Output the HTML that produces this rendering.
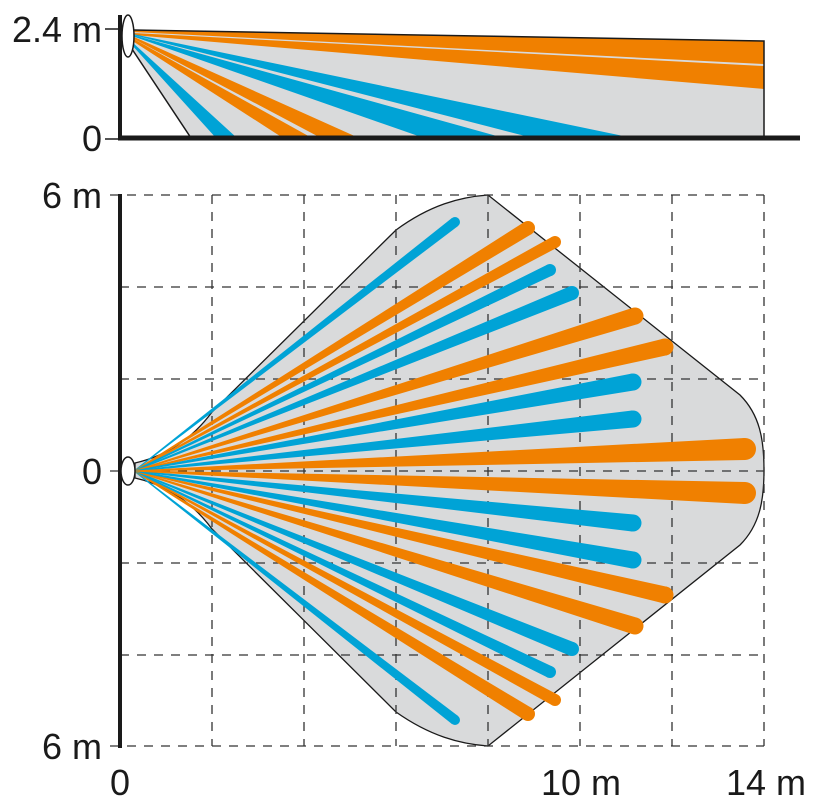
<!DOCTYPE html>
<html><head><meta charset="utf-8"><style>
html,body{margin:0;padding:0;background:#fff;}
svg{display:block;}
text{font-family:"Liberation Sans",sans-serif;font-size:36px;fill:#1a1a1a;}
</style></head><body>
<svg id="s" width="821" height="807" viewBox="0 0 821 807" xmlns="http://www.w3.org/2000/svg">
<!-- TOP CHART -->
<polygon points="133,30 764,41 764,138 191,138 130,46" fill="#d9dadb"/>
<polygon points="133,30 764,41 764,64 133,32" fill="#f08000"/>
<polygon points="133,33 764,66 764,89 133,35" fill="#f08000"/>
<polygon points="131,44 216,138 237,138 132,42" fill="#00a3d6"/>
<polygon points="131,40 283,138 312,138 132,38" fill="#f08000"/>
<polygon points="132,38 321,138 359,138 132,36" fill="#f08000"/>
<polygon points="132,36 424,138 504,138 133,35" fill="#00a3d6"/>
<polygon points="133,35 533,138 633,138 133,34" fill="#00a3d6"/>
<polyline points="130,46 191,138" fill="none" stroke="#1a1a1a" stroke-width="1.5"/>
<polyline points="133,30 764,41 764,138" fill="none" stroke="#1a1a1a" stroke-width="1.5"/>
<line x1="120" y1="15" x2="120" y2="140" stroke="#1a1a1a" stroke-width="4"/>
<line x1="118" y1="138" x2="800" y2="138" stroke="#1a1a1a" stroke-width="5"/>
<line x1="105" y1="29" x2="118" y2="29" stroke="#1a1a1a" stroke-width="1.5"/>
<line x1="105" y1="139" x2="118" y2="139" stroke="#1a1a1a" stroke-width="1.5"/>
<ellipse cx="128" cy="36" rx="6" ry="21" fill="#fff" stroke="#1a1a1a" stroke-width="1.5"/>
<text x="102" y="42" text-anchor="end">2.4 m</text>
<text x="102" y="151" text-anchor="end">0</text>

<!-- BOTTOM CHART -->
<path d="M135,463 C170,455 195,435 212,412 L396,230 C430,205 460,197 488,195 L740,395 C760,415 764,440 764,470 C764,500 760,525 740,545 L488,746 C460,744 430,736 396,712 L212,529 C195,506 170,486 135,478 Z" fill="#d9dadb" stroke="#1a1a1a" stroke-width="1.3"/>
<g stroke="#333" stroke-width="1.3" stroke-dasharray="9,8" fill="none">
<line x1="212" y1="195" x2="212" y2="746"/><line x1="304" y1="195" x2="304" y2="746"/>
<line x1="396" y1="195" x2="396" y2="746"/><line x1="488" y1="195" x2="488" y2="746"/>
<line x1="580" y1="195" x2="580" y2="746"/><line x1="672" y1="195" x2="672" y2="746"/>
<line x1="764" y1="195" x2="764" y2="746"/>
<line x1="110" y1="195" x2="764" y2="195"/><line x1="120" y1="287" x2="764" y2="287"/>
<line x1="120" y1="379" x2="764" y2="379"/><line x1="110" y1="471" x2="764" y2="471"/>
<line x1="120" y1="563" x2="764" y2="563"/><line x1="120" y1="655" x2="764" y2="655"/>
<line x1="110" y1="746" x2="764" y2="746"/>
</g>
<g id="beams"></g>
<line x1="120" y1="194" x2="120" y2="748" stroke="#1a1a1a" stroke-width="4"/>
<ellipse cx="128" cy="471" rx="7" ry="14" fill="#fff" stroke="#1a1a1a" stroke-width="1.5"/>
<text x="102" y="208" text-anchor="end">6 m</text>
<text x="102" y="484" text-anchor="end">0</text>
<text x="102" y="759" text-anchor="end">6 m</text>
<text x="120" y="795" text-anchor="middle">0</text>
<text x="581" y="795" text-anchor="middle">10 m</text>
<text x="766" y="795" text-anchor="middle">14 m</text>
</svg>
<script>
var O='#f08000',B='#00a3d6';
var up=[[B,455,222,10],[O,528,228,14],[O,555,242,12],[B,550,270,12],[B,572,293,14],[O,635,316,17],[O,665,347,17],[B,633,382,17],[B,633,419,17],[O,745,449,22]];
var all=up.slice();
up.forEach(function(b){all.push([b[0],b[1],942-b[2],b[3]]);});
var g=document.getElementById('beams'),ns='http://www.w3.org/2000/svg';
var ox=134,oy=471;
all.forEach(function(b){
 var dx=b[1]-ox,dy=b[2]-oy,L=Math.hypot(dx,dy),nx=-dy/L,ny=dx/L,w=b[3]/2;
 var p=document.createElementNS(ns,'polygon');
 p.setAttribute('points',(ox+nx*0.5)+','+(oy+ny*0.5)+' '+(b[1]+nx*w)+','+(b[2]+ny*w)+' '+(b[1]-nx*w)+','+(b[2]-ny*w)+' '+(ox-nx*0.5)+','+(oy-ny*0.5));
 p.setAttribute('fill',b[0]);g.appendChild(p);
 var c=document.createElementNS(ns,'circle');
 c.setAttribute('cx',b[1]);c.setAttribute('cy',b[2]);c.setAttribute('r',w);c.setAttribute('fill',b[0]);g.appendChild(c);
});
</script>
</body></html>
